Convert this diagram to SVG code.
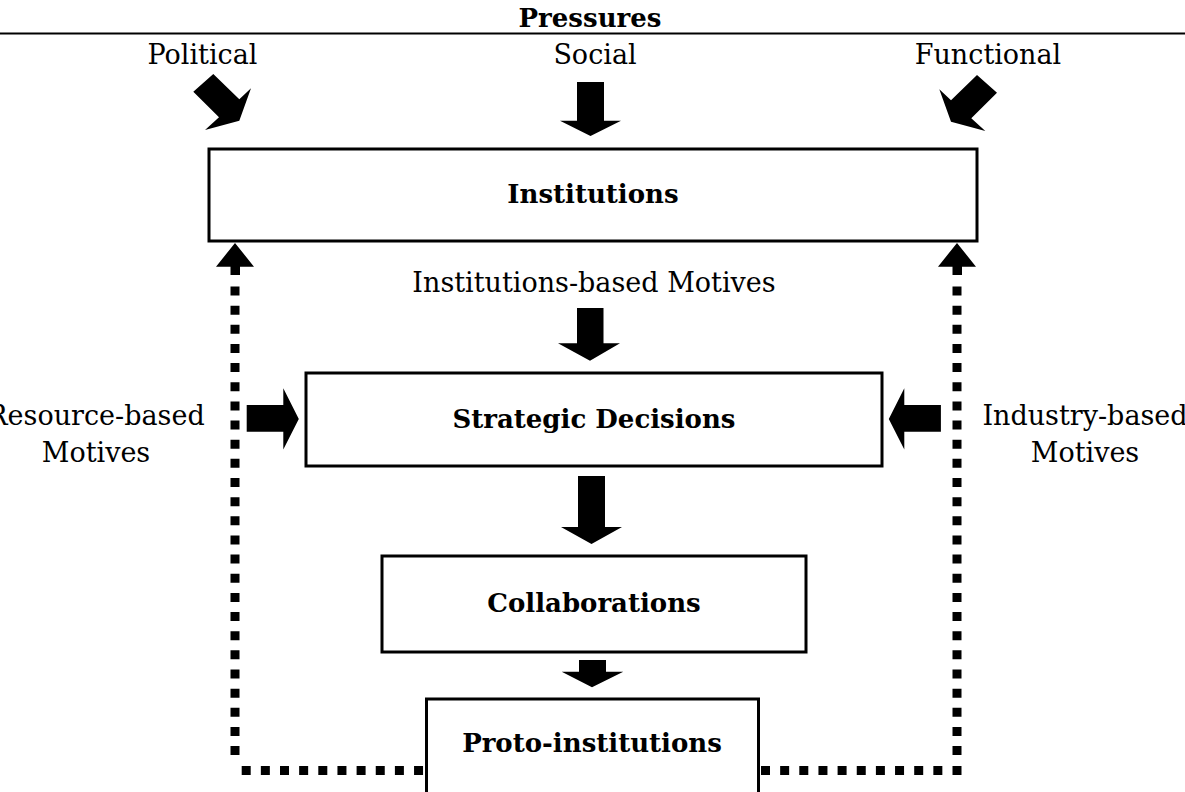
<svg xmlns="http://www.w3.org/2000/svg" width="1185" height="792" viewBox="0 0 1185 792">
  <style>
    .lbl { font-family: "DejaVu Serif", "Liberation Serif", serif; font-size: 27px; fill: #000; text-anchor: middle; }
    .ttl { font-family: "DejaVu Serif", "Liberation Serif", serif; font-size: 26px; font-weight: bold; fill: #000; text-anchor: middle; }
    .box { fill: #fff; stroke: #000; stroke-width: 3; }
    .blk { fill: #000; stroke: none; }
    .dots { fill: none; stroke: #000; stroke-width: 9; stroke-dasharray: 9 10.15; }
  </style>
  <rect width="1185" height="792" fill="#fff"/>

  <!-- header -->
  <g id="header">
    <text class="ttl" x="590" y="27">Pressures</text>
    <line x1="0" y1="33.5" x2="1185" y2="33.5" stroke="#000" stroke-width="2.2"/>
    <text class="lbl" x="202.5" y="64">Political</text>
    <text class="lbl" x="595" y="64">Social</text>
    <text class="lbl" x="988" y="64">Functional</text>
  </g>

  <!-- side motive labels -->
  <g id="motive-labels">
    <text class="lbl" x="594" y="292">Institutions-based Motives</text>
    <text class="lbl" x="96" y="425">Resource-based</text>
    <text class="lbl" x="96" y="462">Motives</text>
    <text class="lbl" x="1085" y="425">Industry-based</text>
    <text class="lbl" x="1085" y="462">Motives</text>
  </g>

  <!-- boxes -->
  <g id="institutions">
    <rect class="box" x="209" y="149" width="768" height="92"/>
    <text class="ttl" x="593" y="203">Institutions</text>
  </g>
  <g id="strategic-decisions">
    <rect class="box" x="306" y="373" width="576" height="93"/>
    <text class="ttl" x="594" y="428">Strategic Decisions</text>
  </g>
  <g id="collaborations">
    <rect class="box" x="382" y="556" width="424" height="96"/>
    <text class="ttl" x="594" y="612">Collaborations</text>
  </g>
  <g id="proto-institutions">
    <rect class="box" x="426.5" y="699" width="332" height="100"/>
    <text class="ttl" x="592" y="752">Proto-institutions</text>
  </g>

  <!-- connectors -->
  <g id="connectors">
    <!-- pressure arrows -->
    <polygon class="blk" points="193.3,91.7 213.3,74 239.3,99.3 251,88.3 239.3,120.7 205,130 219,117.3"/>
    <polygon class="blk" points="577,82 604,82 604,120.7 621,120.7 590.5,136 560,120.7 577,120.7"/>
    <polygon class="blk" transform="translate(1190.3,1) scale(-1,1)" points="193.3,91.7 213.3,74 239.3,99.3 251,88.3 239.3,120.7 205,130 219,117.3"/>

    <!-- motive arrows -->
    <polygon class="blk" points="577,308 603.5,308 603.5,343.3 620,343.3 590,360.7 558,343.3 577,343.3"/>
    <polygon class="blk" points="246.7,405 283.3,405 283.3,388.3 298.8,419 283.3,449.5 283.3,431.7 246.7,431.7"/>
    <polygon class="blk" points="940.9,405 904.3,405 904.3,388.3 888.8,419 904.3,449.5 904.3,431.7 940.9,431.7"/>

    <!-- flow arrows -->
    <polygon class="blk" points="578,476 605,476 605,527 622,527 591.5,544 561,527 578,527"/>
    <polygon class="blk" points="579,660 606,660 606,671.7 623.3,671.7 592,687.3 561.7,671.7 579,671.7"/>

    <!-- feedback loop, left -->
    <polygon class="blk" points="235,243 254,266.7 240,266.7 240,275 230.5,275 230.5,266.7 216,266.7"/>
    <line class="dots" x1="235" y1="286.5" x2="235" y2="757"/>
    <line class="dots" x1="241.7" y1="770.5" x2="426" y2="770.5"/>

    <!-- feedback loop, right -->
    <polygon class="blk" points="957,243 976,266.7 962,266.7 962,275 952.5,275 952.5,266.7 938,266.7"/>
    <line class="dots" x1="957" y1="286.5" x2="957" y2="757"/>
    <line class="dots" x1="761" y1="770.5" x2="962" y2="770.5"/>
  </g>
</svg>
